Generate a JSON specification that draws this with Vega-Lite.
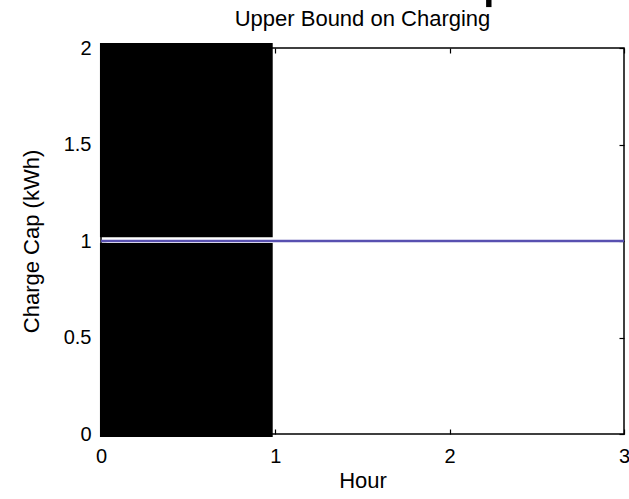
{
  "$schema": "https://vega.github.io/schema/vega-lite/v6.json",
  "width": 523,
  "height": 386,
  "autosize": {"type": "none"},
  "padding": {"left": 101, "top": 48, "right": 5, "bottom": 65},
  "background": "white",
  "title": {"text": "Upper Bound on Charging", "font": "Liberation Sans", "fontSize": 22, "fontWeight": "normal", "color": "black", "offset": -31, "anchor": "middle"},
  "config": {
    "view": {"stroke": "black", "strokeWidth": 1.5},
    "axis": {"domain": false, "grid": false, "tickColor": "black", "tickSize": -5, "tickWidth": 1.2, "labelFont": "Liberation Sans", "labelFontSize": 20, "labelColor": "black", "titleFont": "Liberation Sans", "titleFontSize": 22, "titleFontWeight": "normal", "titleColor": "black", "labelFlush": false, "labelOverlap": false, "format": "~g"}
  },
  "datasets": {
    "blocks": [
      {"x0": -0.006, "x1": 0.985, "y0": 1.02, "y1": 2.026},
      {"x0": -0.006, "x1": 0.985, "y0": -0.016, "y1": 0.99},
      {"x0": 2.209, "x1": 2.24, "y0": 2.212, "y1": 2.25}
    ],
    "cap": [
      {"hour": 0, "cap": 1},
      {"hour": 3, "cap": 1}
    ]
  },
  "layer": [
    {
      "data": {"name": "blocks"},
      "mark": {"type": "rect", "color": "black", "clip": false},
      "encoding": {
        "x": {"field": "x0", "type": "quantitative", "scale": {"domain": [0, 3], "nice": false, "zero": false}, "axis": {"orient": "bottom", "values": [0, 1, 2, 3], "title": "Hour", "labelPadding": 17, "titlePadding": 4}},
        "x2": {"field": "x1"},
        "y": {"field": "y0", "type": "quantitative", "scale": {"domain": [0, 2], "nice": false, "zero": false}, "axis": {"orient": "left", "values": [0, 0.5, 1, 1.5, 2], "title": "Charge Cap (kWh)", "labelPadding": 15, "titlePadding": 20}},
        "y2": {"field": "y1"}
      }
    },
    {
      "data": {"name": "cap"},
      "mark": {"type": "line", "color": "#5850b0", "strokeWidth": 2.5},
      "encoding": {
        "x": {"field": "hour", "type": "quantitative", "axis": {"orient": "top", "values": [0, 1, 2, 3], "labels": false, "title": null}},
        "y": {"field": "cap", "type": "quantitative", "axis": {"orient": "right", "values": [0, 0.5, 1, 1.5, 2], "labels": false, "title": null}}
      }
    }
  ],
  "resolve": {"axis": {"x": "independent", "y": "independent"}}
}
